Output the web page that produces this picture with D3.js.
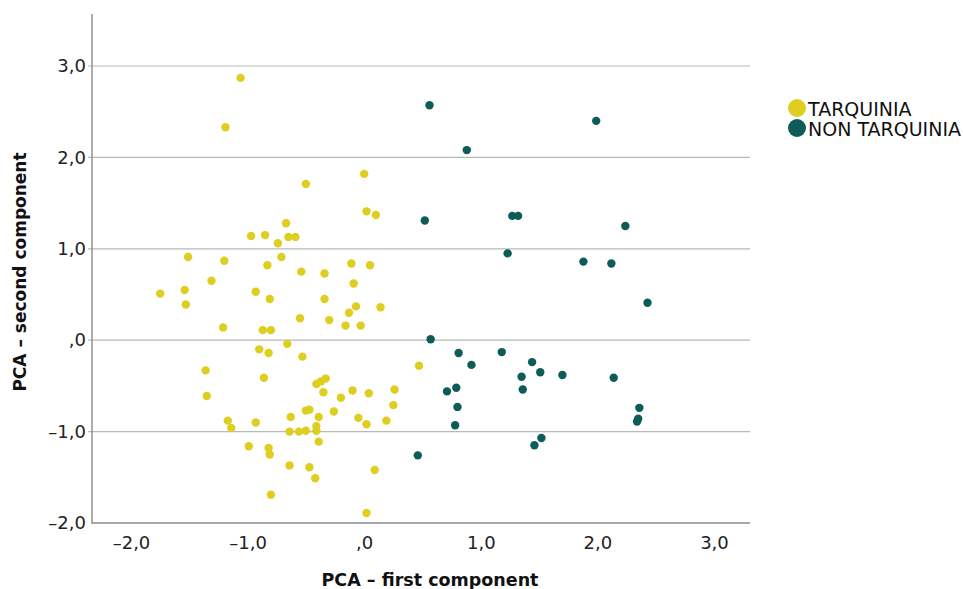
<!DOCTYPE html>
<html>
<head>
<meta charset="utf-8">
<script src="https://cdn.jsdelivr.net/npm/d3@7"></script>
<style>
  body { margin: 0; background: #fff; }
  svg { display: block; font-family: 'DejaVu Sans', sans-serif; }
</style>
</head>
<body>
<div id="chart"></div>
<script>
// PCA scores
const tarqX = [-1.06, -1.19, -0.50, 0.00, 0.02, 0.10, -0.67, -0.97, -0.85, -0.74, -0.65, -0.59,
  -1.51, -1.20, -0.83, -0.71, -0.54, -0.34, -0.11, 0.05, -1.31, -0.09, -1.75, -1.54, -1.53,
  -0.93, -0.81, -0.34, -0.07, -0.13, 0.14, -0.55, -0.30, -0.16, -0.03, -1.21, -0.87, -0.80,
  -0.66, -0.90, -0.82, -0.53, -1.36, -0.86, -0.41, -0.37, -0.33, -0.35, -0.10, 0.04, 0.26,
  -1.35, -0.20, 0.25, -0.50, -0.47, -0.26, -0.63, -0.39, -0.05, 0.19, -1.17, -0.93, 0.02,
  -1.14, -0.64, -0.56, -0.50, -0.41, -0.41, -0.39, -0.99, -0.82, -0.81, -0.64, -0.47, -0.42,
  0.09, -0.80, 0.02, 0.47]
const tarqY = [2.87, 2.33, 1.71, 1.82, 1.41, 1.37, 1.28, 1.14, 1.15, 1.06, 1.13, 1.13,
  0.91, 0.87, 0.82, 0.91, 0.75, 0.73, 0.84, 0.82, 0.65, 0.62, 0.51, 0.55, 0.39,
  0.53, 0.45, 0.45, 0.37, 0.30, 0.36, 0.24, 0.22, 0.16, 0.16, 0.14, 0.11, 0.11,
  -0.04, -0.10, -0.14, -0.18, -0.33, -0.41, -0.48, -0.45, -0.42, -0.57, -0.55, -0.58, -0.54,
  -0.61, -0.63, -0.71, -0.77, -0.76, -0.78, -0.84, -0.84, -0.85, -0.88, -0.88, -0.90, -0.92,
  -0.96, -1.00, -1.00, -0.99, -0.94, -0.99, -1.11, -1.16, -1.18, -1.25, -1.37, -1.39, -1.51,
  -1.42, -1.69, -1.89, -0.28]

const nonX = [0.56, 1.99, 0.88, 0.52, 1.27, 1.32, 2.24, 1.23, 1.88, 2.12, 2.43, 0.57, 0.81,
  1.18, 0.92, 1.44, 1.51, 1.70, 1.35, 2.14, 0.71, 0.79, 1.36, 0.80, 2.36, 2.35, 2.34, 0.78,
  1.52, 1.46, 0.46]
const nonY = [2.57, 2.40, 2.08, 1.31, 1.36, 1.36, 1.25, 0.95, 0.86, 0.84, 0.41, 0.01, -0.14,
  -0.13, -0.27, -0.24, -0.35, -0.38, -0.40, -0.41, -0.56, -0.52, -0.54, -0.73, -0.74, -0.86,
  -0.89, -0.93, -1.07, -1.15, -1.26]

const xTicks = [-2, -1, 0, 1, 2, 3]
const yTicks = [-2, -1, 0, 1, 2, 3]
const groups = ['TARQUINIA', 'NON TARQUINIA']
const colors = ['#ddce1f', '#0e5c58']

const margin = { top: 14, right: 213, bottom: 66, left: 92 }
const width = 963 - margin.left - margin.right
const height = 589 - margin.top - margin.bottom

const svg = d3.select('#chart')
  .append('svg')
  .attr('width', 963)
  .attr('height', 589)
const g = svg.append('g')
  .attr('transform', `translate(${margin.left},${margin.top})`)

const x = d3.scaleLinear().domain([-2.3345, 3.309]).range([0, width])
const y = d3.scaleLinear().domain([-2, 3.569]).range([height, 0])

// SPSS style numbers: comma decimal, no leading zero, en dash minus
const fmt = v => {
  const s = Math.abs(v).toFixed(1).replace('.', ',').replace(/^0,/, ',')
  return (v < 0 ? '–' : '') + s
}

// gridlines
g.append('g')
  .selectAll('line')
  .data(yTicks.filter(v => v > -2))
  .enter()
  .append('line')
  .attr('x1', -4)
  .attr('x2', width)
  .attr('y1', d => y(d))
  .attr('y2', d => y(d))
  .attr('stroke', '#b9b9b9')
  .attr('stroke-width', 1.2)

const yAxis = g.append('g')
  .call(d3.axisLeft(y).tickValues(yTicks).tickSize(0).tickPadding(6).tickFormat(fmt))
yAxis.select('.domain').remove()
yAxis.selectAll('text')
  .attr('font-size', 18)
  .attr('font-family', 'DejaVu Sans, sans-serif')
  .attr('fill', '#222')

const xAxis = g.append('g')
  .attr('transform', `translate(0,${height})`)
  .call(d3.axisBottom(x).tickValues(xTicks).tickSize(0).tickPadding(13).tickFormat(fmt))
xAxis.select('.domain').remove()
xAxis.selectAll('text')
  .attr('font-size', 18)
  .attr('font-family', 'DejaVu Sans, sans-serif')
  .attr('fill', '#222')

// axis frame (left + bottom)
g.append('path')
  .attr('d', `M0,0V${height}H${width}`)
  .attr('fill', 'none')
  .attr('stroke', '#8a8a8a')
  .attr('stroke-width', 1.4)

const series = [
  { name: groups[0], xs: tarqX, ys: tarqY, color: colors[0] },
  { name: groups[1], xs: nonX, ys: nonY, color: colors[1] }
]

series.forEach(s => {
  g.append('g')
    .selectAll('circle')
    .data(s.xs.map((v, i) => [v, s.ys[i]]))
    .enter()
    .append('circle')
    .attr('cx', d => x(d[0]))
    .attr('cy', d => y(d[1]))
    .attr('r', 4.2)
    .attr('fill', s.color)
})

// axis titles
svg.append('text')
  .text('PCA – first component')
  .attr('x', 430)
  .attr('y', 586)
  .attr('text-anchor', 'middle')
  .attr('font-weight', 'bold')
  .attr('font-size', 17.5)
  .attr('fill', '#111')

svg.append('text')
  .text('PCA – second component')
  .attr('transform', `translate(26,272) rotate(-90)`)
  .attr('text-anchor', 'middle')
  .attr('font-weight', 'bold')
  .attr('font-size', 17)
  .attr('fill', '#111')

// legend
const legend = svg.append('g')
  .attr('transform', 'translate(797,108)')
const items = legend.selectAll('g')
  .data(series)
  .enter()
  .append('g')
  .attr('transform', (d, i) => `translate(0,${i * 20})`)
items.append('circle')
  .attr('r', 9)
  .attr('fill', d => d.color)
items.append('text')
  .text(d => d.name)
  .attr('x', 11)
  .attr('y', 7.5)
  .attr('font-size', 19)
  .attr('fill', '#111')
</script>
</body>
</html>
